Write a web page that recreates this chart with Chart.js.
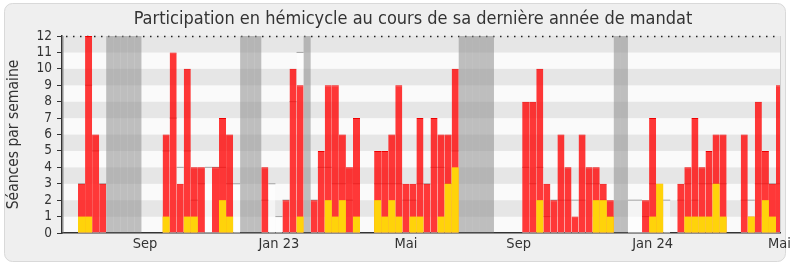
<!DOCTYPE html>
<html>
<head>
<meta charset="utf-8">
<script src="https://cdn.jsdelivr.net/npm/chart.js@4/dist/chart.umd.min.js"></script>
<style>
  html, body { margin: 0; padding: 0; background: #ffffff; }
  canvas { display: block; }
</style>
</head>
<body>
<canvas id="chart" width="790" height="267"></canvas>
<script>
// Weekly attendance in the chamber, one entry per week (index 0 = first week shown).
const seances = [
  3, 12, 6, 3, 0, 0, 0, 0, 0, 0,
  0, 0, 6, 11, 3, 10, 4, 4, 0, 4,
  7, 6, 0, 0, 0, 0, 4, 0, 0, 2,
  10, 9, 0, 2, 5, 9, 9, 6, 4, 7,
  0, 0, 5, 5, 6, 9, 3, 3, 7, 3,
  7, 6, 6, 10, 0, 0, 0, 0, 0, 0,
  0, 0, 0, 8, 8, 10, 3, 2, 6, 4,
  1, 6, 4, 4, 3, 2, 0, 0, 0, 0,
  2, 7, 3, 0, 0, 3, 4, 7, 4, 5,
  6, 6, 0, 0, 6, 1, 8, 5, 3, 9
];

// Weeks with at least one speech in the chamber.
const interventions = [
  1, 1, 0, 0, 0, 0, 0, 0, 0, 0,
  0, 0, 1, 0, 0, 1, 1, 0, 0, 0,
  2, 1, 0, 0, 0, 0, 0, 0, 0, 0,
  0, 1, 0, 0, 0, 2, 1, 2, 0, 1,
  0, 0, 2, 1, 2, 1, 0, 1, 1, 0,
  0, 1, 3, 4, 0, 0, 0, 0, 0, 0,
  0, 0, 0, 0, 0, 2, 0, 0, 0, 0,
  0, 0, 0, 2, 2, 1, 0, 0, 0, 0,
  0, 1, 3, 0, 0, 0, 1, 1, 1, 1,
  3, 1, 0, 0, 0, 1, 0, 2, 1, 0
];

// Median attendance of all members for the same week (null = not shown).
const mediane = [
  3, 9, 5, 3, null, null, null, null, null, null,
  null, null, 5, 7, 4, 5, 2, 3, 4, 4,
  4, 3, 3, null, null, null, 2, 3, 1, 2,
  8, 11, null, 2, 4, 4, 3, 3, 2, 3,
  null, null, 3, 3, 3, 3, 2, 2, 3, 3,
  4, 4, 3, 5, null, null, null, null, null, null,
  null, null, null, 4, 3, 4, 1, 2, 2, 2,
  2, 2, 3, 3, 2, 1, null, null, 2, 2,
  1, 3, 2, 2, null, 2, 3, 2, 3, 3,
  3, 3, null, null, 2, 2, 3, 3, 3, 3
];

// Parliamentary recess weeks.
const vacances = [-3, 4, 5, 6, 7, 8, 23, 24, 25, 32, 54, 55, 56, 57, 58, 76, 77];

// Month labels and the week they sit under.
const tickWeeks = [9, 28, 46, 62, 81, 99];
const tickLabels = ['Sep', 'Jan 23', 'Mai', 'Sep', 'Jan 24', 'Mai'];

const TITLE = 'Participation en hémicycle au cours de sa dernière année de mandat';
const FONT = '"DejaVu Sans Condensed", "DejaVu Sans", sans-serif';
const TEXT = '#333333';

// Bars are centred in the middle of their week.
const weekPoints = values => values.map((v, k) => ({ x: k + 0.5, y: v }));

// Median drawn as one flat step per week.
const medianPoints = [];
mediane.forEach((m, k) => {
  if (m === null) return;
  medianPoints.push({ x: k, y: m }, { x: k + 1, y: m }, { x: k + 1, y: null });
});

// Frame, striped plot background, dotted top line and the heading.
const backdrop = {
  id: 'backdrop',
  beforeDraw(chart) {
    const { ctx, chartArea: a, scales: { y } } = chart;
    ctx.save();
    ctx.fillStyle = '#ffffff';
    ctx.fillRect(0, 0, chart.width, chart.height);
    ctx.beginPath();
    ctx.roundRect(4.5, 3.5, 781, 258, 8);
    ctx.fillStyle = '#efefef';
    ctx.fill();
    ctx.strokeStyle = '#d9d9d9';
    ctx.lineWidth = 1;
    ctx.stroke();
    for (let v = y.min; v < y.max; v++) {
      const y0 = y.getPixelForValue(v);
      const y1 = y.getPixelForValue(v + 1);
      ctx.fillStyle = v % 2 ? '#e6e6e6' : '#fafafa';
      ctx.fillRect(a.left, y1, a.right - a.left, y0 - y1);
    }
    ctx.strokeStyle = '#d0d0d0';
    ctx.beginPath();
    ctx.moveTo(a.right + 0.5, a.top);
    ctx.lineTo(a.right + 0.5, a.bottom);
    ctx.stroke();
    const top = Math.round(y.getPixelForValue(y.max)) + 0.5;
    ctx.strokeStyle = '#222222';
    ctx.lineWidth = 1.5;
    ctx.setLineDash([1.5, 5.5]);
    ctx.beginPath();
    ctx.moveTo(a.left + 4, top);
    ctx.lineTo(a.right, top);
    ctx.stroke();
    ctx.setLineDash([]);
    ctx.fillStyle = TEXT;
    ctx.font = '18px ' + FONT;
    ctx.textAlign = 'center';
    ctx.textBaseline = 'middle';
    ctx.fillText(TITLE, (a.left + a.right) / 2 - 8, 19.5);
    ctx.restore();
  }
};

new Chart(document.getElementById('chart'), {
  data: {
    datasets: [
      {
        type: 'bar',
        label: 'Interventions',
        data: weekPoints(interventions),
        backgroundColor: '#ffd30a',
        borderWidth: 0,
        order: 1
      },
      {
        type: 'bar',
        label: 'Séances',
        data: weekPoints(seances),
        backgroundColor: 'rgba(255, 0, 0, 0.78)',
        borderColor: '#f00000',
        borderWidth: { top: 1, left: 0, right: 0, bottom: 0 },
        borderSkipped: 'start',
        order: 2
      },
      {
        type: 'line',
        label: 'Médiane',
        data: medianPoints,
        borderColor: '#a3a3a3',
        borderWidth: 1,
        pointRadius: 0,
        tension: 0,
        fill: 'origin',
        backgroundColor: 'rgba(255, 255, 255, 0.55)',
        order: 3
      },
      {
        type: 'bar',
        label: 'Vacances parlementaires',
        data: vacances.map(k => ({ x: k + 0.5, y: 12 })),
        backgroundColor: 'rgba(140, 140, 140, 0.55)',
        borderWidth: 0,
        order: 4
      }
    ]
  },
  options: {
    responsive: false,
    animation: false,
    events: [],
    datasets: {
      bar: { grouped: false, barPercentage: 1, categoryPercentage: 1, inflateAmount: 0 }
    },
    layout: { padding: { left: 0, right: 10, top: 36, bottom: 0 } },
    plugins: {
      legend: { display: false },
      tooltip: { enabled: false },
      title: { display: false }
    },
    scales: {
      x: {
        type: 'linear',
        offset: false,
        min: -2.27,
        max: 99.57,
        grid: { display: false, drawTicks: false, offset: false },
        border: { display: true, color: '#333333', width: 1.5 },
        ticks: {
          autoSkip: false,
          maxRotation: 0,
          padding: 3,
          color: TEXT,
          font: { family: FONT, size: 14.5 },
          callback: (value, index) => tickLabels[index]
        },
        afterBuildTicks: scale => {
          scale.ticks = tickWeeks.map(k => ({ value: k + 0.5 }));
        },
        afterFit: scale => {
          scale.height = 34;
          scale.paddingLeft = 0;
          scale.paddingRight = 0;
        }
      },
      y: {
        min: 0,
        max: 12,
        ticks: {
          stepSize: 1,
          autoSkip: false,
          padding: 5,
          color: TEXT,
          font: { family: FONT, size: 13.5 }
        },
        grid: { drawOnChartArea: false, drawTicks: true, tickLength: 5, color: '#333333' },
        border: { display: true, color: '#333333', width: 1.5 },
        title: {
          display: true,
          text: 'Séances par semaine',
          color: TEXT,
          font: { family: FONT, size: 15.5 },
          padding: { top: 4.7, bottom: 0 }
        },
        afterFit: scale => {
          scale.width = 62;
          scale.paddingTop = 0;
          scale.paddingBottom = 0;
        }
      }
    }
  },
  plugins: [backdrop]
});
</script>
</body>
</html>
